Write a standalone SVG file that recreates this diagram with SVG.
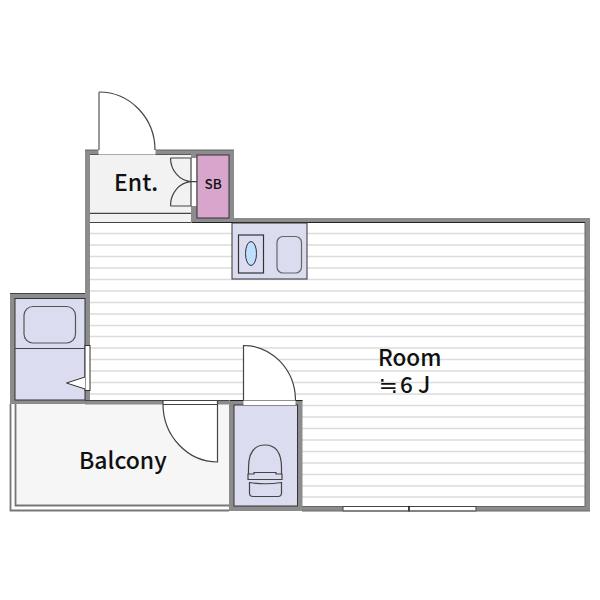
<svg xmlns="http://www.w3.org/2000/svg" width="600" height="600" viewBox="0 0 600 600">
<style>
.wall{fill:#8c8c8c}
.ln{fill:none;stroke:#444;stroke-width:1.2}
.blue{fill:#dcdcf0}
.fl{stroke:#dcdcdc;stroke-width:1.500}
text{font-family:"Noto Sans CJK JP","Noto Sans",sans-serif;fill:#111;font-weight:500}
</style>
<g id="room">
<rect x="90" y="222" width="495" height="284" fill="#fff"/>
<path class="fl" d="M90 233.500H585M90 245H585M90 256.500H585M90 268H585M90 279.500H585M90 291H585M90 302.500H585M90 314H585M90 325.500H585M90 336.500H585M90 348H585M90 359.500H585M90 371H585M90 382.500H585M90 394H585M90 405.500H585M90 417H585M90 428.500H585M90 440H585M90 451.500H585M90 463H585M90 474.500H585M90 486H585M90 497H585"/>
<text x="378" y="366" font-size="22.500">Room</text>
<text x="378.500" y="393" font-size="22.500" style="font-family:'DejaVu Sans',sans-serif;font-weight:400">≒</text>
<text x="400" y="393" font-size="22.500">6 J</text>
</g>
<g id="walls">
<path class="wall" d="M85 150H234V218H590V511H302V506H585V223H196V218H229V155H90V400H85Z"/>
<rect class="wall" x="191" y="150" width="6" height="73"/>
<path fill="none" stroke="#222" stroke-width="1.200" d="M90 155H191M192 222.500H585"/>
<path fill="none" stroke="#666" stroke-width="1" d="M85 150H234M585 223V506M302 506.500H343M476 506.500H585"/>
</g>
<g id="entrance">
<rect x="90" y="155" width="101" height="58" fill="#f2f2f2"/>
<rect x="90" y="213" width="101" height="9" fill="#f2f2f2"/>
<path class="ln" d="M90 213.300H191M90 222.500H191"/>
<rect x="98.500" y="150" width="57" height="4.500" fill="#fff"/>
<path d="M99 150V92A56 58 0 0 1 155 150Z" fill="#fff" stroke="none"/>
<path fill="none" stroke="#777" stroke-width="1.500" d="M99 150V92"/>
<path class="ln" d="M99 92A56 58 0 0 1 155 150"/>
<rect x="191" y="158" width="5.500" height="48" fill="#fff"/>
<path class="ln" d="M170.500 158H191V206H170.500M170.500 158A22 24 0 0 0 191 181.700H197M170.500 206A22 24 0 0 1 191 181.700"/>
<text x="114" y="191" font-size="23">Ent.</text>
</g>
<g id="sb">
<rect x="197" y="155" width="32" height="63" fill="#d8a6cc" stroke="#333" stroke-width="1"/>
<text x="204.500" y="189" font-size="13.500">SB</text>
</g>
<g id="kitchen">
<rect class="blue" x="232" y="223" width="75" height="56" stroke="#333" stroke-width="1"/>
<rect x="238.500" y="235" width="25" height="38" fill="none" stroke="#333" stroke-width="1.200"/>
<ellipse cx="251" cy="253.500" rx="5.500" ry="12" fill="#bfdfff" stroke="#333" stroke-width="1"/>
<rect x="277" y="236.500" width="24.500" height="36.500" rx="6" fill="none" stroke="#666" stroke-width="1.200"/>
</g>
<g id="bath">
<rect class="wall" x="10" y="293" width="80" height="111"/>
<rect class="blue" x="15" y="298.500" width="70" height="101.500" stroke="#333" stroke-width="1"/>
<path class="ln" d="M15 348.500H85M10 293.500H85"/>
<rect x="24" y="306.500" width="51.500" height="36.500" rx="9" fill="none" stroke="#555" stroke-width="1.200"/>
<rect x="85" y="345.500" width="5" height="45" fill="#fff" stroke="#333" stroke-width="1"/>
<path d="M85 377L66.500 383L85 389" fill="#fff" stroke="#333" stroke-width="1"/>
</g>
<g id="balcony">
<rect x="15" y="404" width="215" height="101.500" fill="#f6f6f6"/>
<path fill="none" stroke="#777" stroke-width="1.800" d="M10.500 404V510.500H229M15.500 404V505.500H229"/>
<rect class="wall" x="85" y="400" width="145" height="4.500"/>
<path d="M163 404.500H217.500V462A55 58 0 0 1 163 404.500Z" fill="#fff"/>
<rect x="163" y="400.500" width="54.500" height="4" fill="#fff"/>
<path class="ln" d="M217.500 400.500V462A55 58 0 0 1 163 404.500V400.500M85 400.500H230M163 404.500H217.500"/>
<text x="79" y="469" font-size="23">Balcony</text>
</g>
<g id="toilet">
<rect class="wall" x="229" y="400" width="73.500" height="111"/>
<path d="M230 400.500H302.500" fill="none" stroke="#222" stroke-width="1.200"/>
<rect class="blue" x="234" y="405" width="63.500" height="101" stroke="#333" stroke-width="1"/>
<rect x="243.500" y="400.500" width="52" height="4.500" fill="#fff"/>
<path d="M243.500 400V345.500A52 55 0 0 1 295.500 400Z" fill="#fff"/>
<path class="ln" d="M243.500 400V345.500A52 55 0 0 1 295.500 400"/>
<path class="ln" d="M248.500 474V468C248.500 452 255 445 265 445S281.500 452 281.500 468V474M248 474V479.500H282V474H276V472.500H254V474Z"/>
<path class="ln" d="M249.500 482.500V493Q249.500 496.500 253 496.500H278Q281.500 496.500 281.500 493V482.500Q265 485 249.500 482.500Z"/>
</g>
<g id="window">
<rect x="343" y="506.500" width="133" height="4.500" fill="#fff" stroke="#444" stroke-width="1"/>
<path d="M409 506V511.500" stroke="#111" stroke-width="1.600"/>
<path d="M302 511H590" fill="none" stroke="#666" stroke-width="1"/>
</g>
</svg>
